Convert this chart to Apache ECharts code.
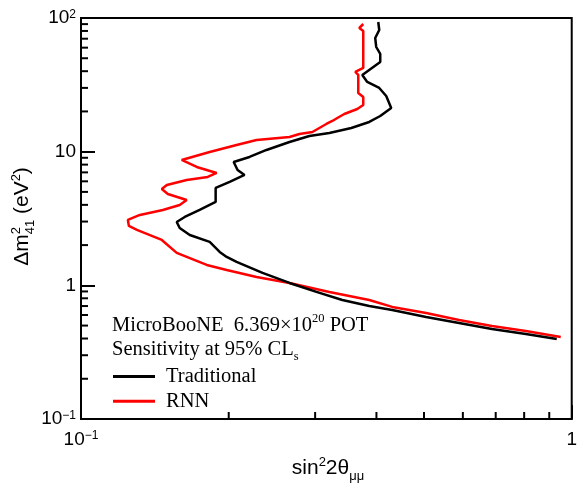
<!DOCTYPE html>
<html>
<head>
<meta charset="utf-8">
<script src="https://cdn.jsdelivr.net/npm/echarts@6/dist/echarts.min.js"></script>
<style>
  html, body { margin: 0; padding: 0; background: #fff; }
  #chart { width: 580px; height: 483px; }
</style>
</head>
<body>
<div id="chart"></div>
<script>
// 95% CLs sensitivity contours in the (sin^2 2θμμ, Δm^2_41) plane

// Traditional selection
const tradSin2 = [0.4034, 0.4053, 0.3977, 0.3996, 0.4072, 0.4072, 0.3743, 0.3831, 0.4053, 0.4188,
  0.4287, 0.4072, 0.3867, 0.3555, 0.3207, 0.2920, 0.2660, 0.2388, 0.2205, 0.2047,
  0.2085, 0.2154, 0.2009, 0.1881, 0.1881, 0.1745, 0.1627, 0.1567, 0.1589, 0.1666,
  0.1829, 0.1917, 0.1981, 0.2075, 0.2344, 0.2660, 0.3018, 0.3408, 0.3867, 0.4307,
  0.5050, 0.5893, 0.6877, 0.8063, 0.9322];
const tradDm2 = [93.35, 81.34, 70.86, 60.68, 53.79, 46.88, 37.47, 33.21, 29.95, 26.10,
  21.22, 18.49, 16.68, 15.04, 13.80, 13.11, 11.81, 10.30, 9.129, 8.374,
  7.297, 6.694, 5.934, 5.351, 4.205, 3.664, 3.248, 2.980, 2.688, 2.382,
  2.112, 1.778, 1.632, 1.496, 1.238, 1.042, 0.8926, 0.7775, 0.7015, 0.6548,
  0.5802, 0.5233, 0.4719, 0.4330, 0.3973];

// RNN selection
const rnnSin2 = [0.3760, 0.3691, 0.3760, 0.3760, 0.3622, 0.3673, 0.3673, 0.3760, 0.3760, 0.3656,
  0.3440, 0.3329, 0.3252, 0.3162, 0.3060, 0.2962, 0.2787, 0.2660, 0.2279, 0.2075,
  0.1829, 0.1604, 0.1721, 0.1890, 0.1812, 0.1642, 0.1496, 0.1461, 0.1503, 0.1642,
  0.1589, 0.1468, 0.1318, 0.1246, 0.1252, 0.1300, 0.1461, 0.1567, 0.1804, 0.1981,
  0.2279, 0.2660, 0.3207, 0.3867, 0.4307, 0.5050, 0.5893, 0.6877, 0.8063, 0.9498];
const rnnDm2 = [90.18, 84.18, 79.95, 42.27, 39.46, 37.47, 27.49, 25.66, 22.35, 20.86,
  19.14, 17.87, 16.97, 16.11, 15.04, 14.04, 13.57, 12.88, 12.23, 11.22,
  9.949, 8.667, 7.684, 6.929, 6.468, 6.142, 5.635, 5.260, 4.827, 4.352,
  3.993, 3.664, 3.362, 3.084, 2.781, 2.597, 2.186, 1.748, 1.421, 1.304,
  1.156, 1.042, 0.8926, 0.7775, 0.6895, 0.6217, 0.5510, 0.4969, 0.4559, 0.4112];

const seriesNames = ['Traditional', 'RNN'];
const seriesColors = ['#000000', '#ff0000'];

// axis ranges and minor tick values
const xRange = [0.1, 1];
const yRange = [0.1, 100];
const xMinorTicks = [0.2, 0.3, 0.4, 0.5, 0.6, 0.7, 0.8, 0.9];
const yMinorTicks = [0.2, 0.3, 0.4, 0.5, 0.6, 0.7, 0.8, 0.9,
  2, 3, 4, 5, 6, 7, 8, 9, 20, 30, 40, 50, 60, 70, 80, 90];

// text blocks: [text, size, baseline shift, advance?]
const infoLine1 = [['MicroBooNE  6.369\u00d710', 20.5, 0], ['20', 12.5, -9], [' POT', 20.5, 0]];
const infoLine2 = [['Sensitivity at 95% CL', 20.5, 0], ['s', 12.5, 5]];
const xTitleRuns = [['sin', 21, 0], ['2', 13, -9], ['2\u03b8', 21, 0], ['\u03bc\u03bc', 13, 5]];
const yTitleRuns = [['\u0394m', 21, 0], ['2', 13, -9, false], ['41', 13, 5], [' (eV', 21, 0], ['2', 13, -9], [')', 21, 0]];

const SANS = '"Liberation Sans", Arial, sans-serif';
const SERIF = '"Liberation Serif", "Times New Roman", serif';

const measureCtx = document.createElement('canvas').getContext('2d');
function textWidth(str, size, family) {
  measureCtx.font = size + 'px ' + family;
  return measureCtx.measureText(str).width;
}
// lay out runs of text on a common baseline; a run with advance=false does not move the pen
function runWidth(runs, family) {
  let x = 0, pending = 0;
  runs.forEach(r => {
    const w = textWidth(r[0], r[1], family);
    if (r[3] === false) { pending = Math.max(pending, w); }
    else { x += Math.max(w, pending); pending = 0; }
  });
  return x;
}
function textGroup(runs, family, origin, rotation) {
  const children = [];
  let x = 0, pending = 0;
  runs.forEach(r => {
    const [str, size, dy] = r;
    const w = textWidth(str, size, family);
    children.push({
      type: 'text', x: x, y: dy - 0.31 * size,
      style: { text: str, fill: '#000', font: size + 'px ' + family, align: 'left', verticalAlign: 'middle' }
    });
    if (r[3] === false) { pending = Math.max(pending, w); }
    else { x += Math.max(w, pending); pending = 0; }
  });
  return { type: 'group', x: origin[0], y: origin[1], rotation: rotation || 0, children: children };
}

function decadeLabel(v) {
  const e = Math.round(Math.log10(v));
  if (e === 0) return '{b|1}';
  if (e === 1) return '{b|10}';
  return '{b|10}{s|' + (e < 0 ? '\u2212' : '') + Math.abs(e) + '}';
}
const labelRich = {
  b: { fontSize: 19, fontFamily: SANS, color: '#000' },
  s: { fontSize: 12, fontFamily: SANS, color: '#000', verticalAlign: 'top' }
};

const chart = echarts.init(document.getElementById('chart'), null, { renderer: 'canvas' });

const xTitleW = runWidth(xTitleRuns, SANS);
const yTitleW = runWidth(yTitleRuns, SANS);

const option = {
  animation: false,
  backgroundColor: '#fff',
  grid: { left: 81, top: 18, right: 7, bottom: 64, show: true, borderColor: '#000', borderWidth: 2, backgroundColor: 'transparent' },
  xAxis: {
    type: 'log', logBase: 10, min: xRange[0], max: xRange[1],
    axisLine: { show: true, onZero: false, lineStyle: { color: '#000', width: 2 } },
    axisTick: { show: true, inside: true, length: 14, lineStyle: { color: '#000', width: 2 } },
    splitLine: { show: false },
    axisLabel: { margin: 11, formatter: decadeLabel, rich: labelRich }
  },
  yAxis: {
    type: 'log', logBase: 10, min: yRange[0], max: yRange[1],
    axisLine: { show: true, onZero: false, lineStyle: { color: '#000', width: 2 } },
    axisTick: { show: true, inside: true, length: 14, lineStyle: { color: '#000', width: 2 } },
    splitLine: { show: false },
    axisLabel: { margin: 5, formatter: decadeLabel, rich: labelRich }
  },
  legend: {
    data: seriesNames,
    orient: 'vertical',
    left: 113, top: 366,
    icon: 'rect', itemWidth: 42, itemHeight: 3, itemGap: 3.7,
    padding: 0,
    selectedMode: false,
    textStyle: { fontFamily: SERIF, fontSize: 20.5, color: '#000', lineHeight: 21, padding: [0, 0, 0, 6] }
  },
  graphic: [
    textGroup(infoLine1, SERIF, [112, 332]),
    textGroup(infoLine2, SERIF, [112, 355.5]),
    textGroup(xTitleRuns, SANS, [328 - xTitleW / 2, 475]),
    textGroup(yTitleRuns, SANS, [29, 216.5 + yTitleW / 2], Math.PI / 2)
  ],
  series: [
    {
      name: seriesNames[0], type: 'line', showSymbol: false, symbol: 'none',
      data: tradSin2.map((v, i) => [v, tradDm2[i]]),
      lineStyle: { color: seriesColors[0], width: 2.5 }, itemStyle: { color: seriesColors[0] }, z: 3
    },
    {
      name: seriesNames[1], type: 'line', showSymbol: false, symbol: 'none',
      data: rnnSin2.map((v, i) => [v, rnnDm2[i]]),
      lineStyle: { color: seriesColors[1], width: 2.5 }, itemStyle: { color: seriesColors[1] }, z: 2
    },
    {
      // minor ticks at 2..9 of each decade, drawn inward from the left and bottom axes
      type: 'custom', name: 'minorTicks', silent: true, clip: false, z: 5,
      data: yMinorTicks.map(v => [xRange[0], v, 0]).concat(xMinorTicks.map(v => [v, yRange[0], 1])),
      encode: { x: 0, y: 1 },
      renderItem: function (params, api) {
        const p = api.coord([api.value(0), api.value(1)]);
        const vertical = api.value(2) === 1;
        return {
          type: 'line',
          shape: vertical ? { x1: p[0], y1: p[1], x2: p[0], y2: p[1] - 7 }
                          : { x1: p[0], y1: p[1], x2: p[0] + 7, y2: p[1] },
          style: { stroke: '#000', lineWidth: 2 }
        };
      }
    }
  ]
};
chart.setOption(option);
</script>
</body>
</html>
